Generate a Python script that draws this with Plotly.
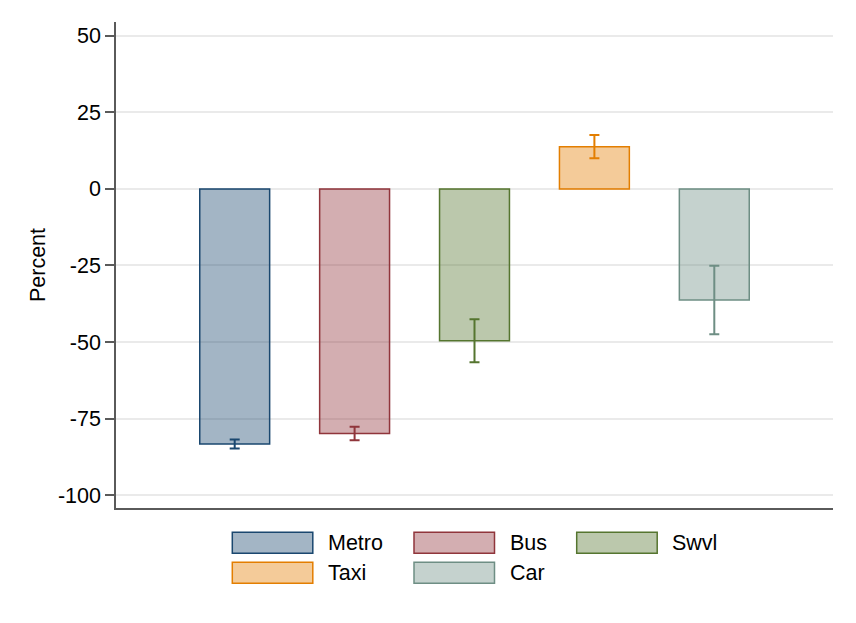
import plotly.graph_objects as go

categories = ["Metro", "Bus", "Swvl", "Taxi", "Car"]
values = [-83.3, -79.9, -49.6, 13.8, -36.3]
errors = [1.5, 2.2, 7.0, 3.8, 11.2]
line_colors = ["#1a476f", "#90353b", "#55752f", "#e37e00", "#6e8e84"]
fill_colors = ["rgba(26,71,111,0.4)", "rgba(144,53,59,0.4)", "rgba(85,117,47,0.4)",
               "rgba(227,126,0,0.4)", "rgba(110,142,132,0.4)"]
y_ticks = [-100, -75, -50, -25, 0, 25, 50]

FONT = "Arial, Liberation Sans, sans-serif"
FS = 21.5
W, H = 856, 623
OFF = 8  # page offset of the figure in the browser
L, R, T, B = 116 - OFF, 23 + OFF, 22 - OFF, 115 + OFF
PW, PH = W - L - R, H - T - B

fig = go.Figure()
for i, (c, v, e) in enumerate(zip(categories, values, errors)):
    fig.add_trace(go.Bar(
        x=[i], y=[v], name=c, width=0.583,
        marker=dict(color=fill_colors[i], line=dict(color=line_colors[i], width=1.5)),
        error_y=dict(type="data", array=[e], visible=True, color=line_colors[i],
                     thickness=2, width=5),
        showlegend=False,
    ))

# custom legend (Stata style); positions given in screen pixels
def px_x(p):
    return (p - OFF - L) / PW

def px_y(p):
    return (H - B - (p - OFF)) / PH

legend_pos = [(232.3, 532.3), (414.0, 532.3), (576.7, 532.3), (232.3, 562.3), (414.0, 562.3)]
for i, (c, (lx, ly)) in enumerate(zip(categories, legend_pos)):
    fig.add_shape(type="rect", xref="paper", yref="paper",
                  x0=px_x(lx), x1=px_x(lx + 80.5), y0=px_y(ly), y1=px_y(ly + 21),
                  fillcolor=fill_colors[i], line=dict(color=line_colors[i], width=1.5))
    fig.add_annotation(xref="paper", yref="paper", x=px_x(lx + 93.5), y=px_y(ly + 10.5),
                       text=c, showarrow=False, xanchor="left", yanchor="middle",
                       font=dict(family=FONT, size=FS, color="black"))

fig.update_layout(
    width=W, height=H,
    margin=dict(l=L, r=R, t=T, b=B),
    paper_bgcolor="white", plot_bgcolor="white",
    barmode="overlay",
    font=dict(family=FONT, size=FS, color="black"),
    xaxis=dict(range=[-0.99, 4.99], showticklabels=False, ticks="", showgrid=False,
               zeroline=False, showline=True, linecolor="#5a5a5a", linewidth=1.5),
    yaxis=dict(range=[-104.2, 54.5], tickvals=y_ticks, ticktext=[str(t) for t in y_ticks],
               ticks="outside", ticklen=9, tickwidth=1.5, tickcolor="#5a5a5a",
               showgrid=True, gridcolor="#eaeaea", gridwidth=1.5, zeroline=False,
               showline=True, linecolor="#5a5a5a", linewidth=1.5,
               tickfont=dict(family=FONT, size=FS, color="black"),
               title=dict(text="Percent", font=dict(family=FONT, size=FS, color="black"),
                          standoff=6)),
)

fig.write_html("out.html")
